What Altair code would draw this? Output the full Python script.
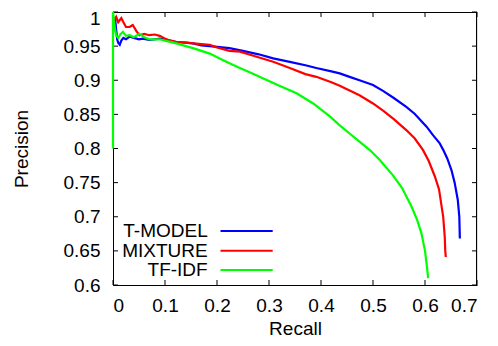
import altair as alt
import pandas as pd

# ---- data ----
tmodel_recall = [0, 0.002, 0.004, 0.006, 0.008, 0.01, 0.013, 0.016, 0.02, 0.025, 0.032, 0.04, 0.05, 0.057,
                 0.07, 0.09, 0.11, 0.122, 0.14, 0.154, 0.17, 0.186, 0.2, 0.224, 0.25, 0.28, 0.308, 0.34, 0.37,
                 0.391, 0.42, 0.436, 0.455, 0.474, 0.5, 0.52, 0.54, 0.564, 0.58, 0.603, 0.615, 0.628, 0.635,
                 0.643, 0.651, 0.657, 0.663, 0.666, 0.667]
tmodel_prec = [0.97, 0.985, 0.99, 0.975, 0.96, 0.955, 0.952, 0.958, 0.962, 0.96, 0.964, 0.962, 0.96, 0.961,
               0.959, 0.961, 0.958, 0.956, 0.955, 0.954, 0.951, 0.950, 0.949, 0.947, 0.943, 0.938, 0.932, 0.927,
               0.922, 0.918, 0.913, 0.910, 0.905, 0.900, 0.893, 0.884, 0.874, 0.861, 0.851, 0.832, 0.82, 0.808,
               0.798, 0.785, 0.768, 0.75, 0.725, 0.70, 0.668]

mixture_recall = [0, 0.003, 0.006, 0.01, 0.016, 0.02, 0.025, 0.032, 0.038, 0.045, 0.051, 0.06, 0.07, 0.08,
                  0.09, 0.1, 0.11, 0.122, 0.14, 0.154, 0.17, 0.186, 0.2, 0.224, 0.244, 0.27, 0.308, 0.34, 0.37,
                  0.391, 0.42, 0.436, 0.455, 0.474, 0.5, 0.52, 0.54, 0.564, 0.58, 0.596, 0.607, 0.619, 0.627,
                  0.635, 0.638, 0.639, 0.64]
mixture_prec = [0.97, 0.99, 0.993, 0.985, 0.991, 0.985, 0.978, 0.978, 0.981, 0.972, 0.966, 0.968, 0.966, 0.967,
                0.965, 0.961, 0.958, 0.956, 0.955, 0.954, 0.953, 0.952, 0.948, 0.943, 0.942, 0.936, 0.927, 0.918,
                0.909, 0.905, 0.897, 0.892, 0.885, 0.878, 0.866, 0.855, 0.843, 0.827, 0.815, 0.798, 0.782, 0.759,
                0.74, 0.70, 0.67, 0.65, 0.641]

tfidf_recall = [0, 0, 0.002, 0.004, 0.006, 0.01, 0.015, 0.019, 0.025, 0.032, 0.04, 0.051, 0.06, 0.07, 0.09,
                0.1, 0.122, 0.14, 0.154, 0.17, 0.186, 0.21, 0.224, 0.244, 0.265, 0.288, 0.32, 0.353, 0.385,
                0.417, 0.436, 0.455, 0.474, 0.495, 0.513, 0.538, 0.556, 0.574, 0.585, 0.593, 0.6, 0.604, 0.606]
tfidf_prec = [0.80, 1.0, 0.985, 0.975, 0.966, 0.962, 0.968, 0.971, 0.965, 0.966, 0.963, 0.968, 0.963, 0.960,
              0.960, 0.958, 0.954, 0.950, 0.947, 0.943, 0.939, 0.930, 0.925, 0.918, 0.911, 0.903, 0.892, 0.881,
              0.866, 0.847, 0.834, 0.822, 0.810, 0.797, 0.783, 0.761, 0.742, 0.715, 0.695, 0.676, 0.65, 0.625,
              0.61]

series_names = ["T-MODEL", "MIXTURE", "TF-IDF"]
series_colors = ["#0000ff", "#ff0000", "#00ff00"]
x_ticks = [0, 0.1, 0.2, 0.3, 0.4, 0.5, 0.6, 0.7]
y_ticks = [0.6, 0.65, 0.7, 0.75, 0.8, 0.85, 0.9, 0.95, 1.0]

FONT = "Liberation Sans"
FS = 19
W, H = 364, 273

rows = []
for name, rs, ps in zip(series_names, [tmodel_recall, mixture_recall, tfidf_recall],
                        [tmodel_prec, mixture_prec, tfidf_prec]):
    for i, (r, p) in enumerate(zip(rs, ps)):
        rows.append({"series": name, "recall": r, "precision": p, "idx": i})
df = pd.DataFrame(rows)

xscale = alt.Scale(domain=[0, 0.7], nice=False, zero=False)
yscale = alt.Scale(domain=[0.6, 1.0], nice=False, zero=False)

xaxis = alt.Axis(values=x_ticks, format="~g", ticks=False, domain=True, domainColor="black",
                 domainWidth=1, grid=False,
                 labelFontSize=FS, labelFont=FONT, labelPadding=11, labelColor="black",
                 title="Recall", titleFont=FONT, titleFontSize=FS, titleFontWeight="normal",
                 titleColor="black", titleY=49, titleBaseline="alphabetic")
yaxis = alt.Axis(values=y_ticks, format="~g", ticks=False, domain=True, domainColor="black",
                 domainWidth=1, grid=False,
                 labelFontSize=FS, labelFont=FONT, labelPadding=13, labelColor="black",
                 labelOffset=alt.condition("datum.value == 1", alt.value(6), alt.value(0)),
                 title="Precision", titleFont=FONT, titleFontSize=FS, titleFontWeight="normal",
                 titleColor="black", titleX=-82, titleY=H / 2, titleAngle=270, titleBaseline="bottom")

X = alt.X("recall:Q", scale=xscale, axis=xaxis)
Y = alt.Y("precision:Q", scale=yscale, axis=yaxis)

base = alt.Chart(df)
layers = []

# top and right border lines
one = pd.DataFrame({"v": [0]})
layers.append(alt.Chart(one).mark_rule(color="black", strokeWidth=1).encode(
    x=alt.value(0), x2=alt.value(W), y=alt.value(0.5)))
layers.append(alt.Chart(one).mark_rule(color="black", strokeWidth=1).encode(
    x=alt.value(W - 0.5), y=alt.value(0), y2=alt.value(H)))

# inward ticks (bottom/top/left/right)
xt = pd.DataFrame({"recall": x_ticks})
yt = pd.DataFrame({"precision": y_ticks})
tick_style = dict(color="black", strokeWidth=1)
layers.append(alt.Chart(xt).mark_rule(**tick_style).encode(
    x=X, y=alt.value(H), y2=alt.value(H - 5)))
layers.append(alt.Chart(xt).mark_rule(**tick_style).encode(
    x=X, y=alt.value(0), y2=alt.value(5)))
layers.append(alt.Chart(yt).mark_rule(**tick_style).encode(
    y=Y, x=alt.value(0), x2=alt.value(5)))
layers.append(alt.Chart(yt).mark_rule(**tick_style).encode(
    y=Y, x=alt.value(W), x2=alt.value(W - 5)))

for name, col in zip(series_names, series_colors):
    layers.append(base.transform_filter(alt.datum.series == name)
                  .mark_line(color=col, strokeWidth=2.2).encode(x=X, y=Y, order="idx:Q"))

# legend (gnuplot style: label then line sample)
leg_y = [219, 238.7, 258]
for name, col, yy in zip(series_names, series_colors, leg_y):
    ld = pd.DataFrame({"label": [name]})
    layers.append(alt.Chart(ld).mark_text(align="right", baseline="middle", font=FONT,
                                          fontSize=FS, color="black").encode(
        text="label:N", x=alt.value(94.7), y=alt.value(yy)))
    layers.append(alt.Chart(ld).mark_rule(color=col, strokeWidth=2).encode(
        x=alt.value(107.5), x2=alt.value(159.7), y=alt.value(yy)))

chart = alt.layer(*layers).properties(
    width=W, height=H,
    autosize=alt.AutoSizeParams(type="none"),
    padding={"left": 105, "top": 4, "right": 13, "bottom": 53},
).configure_view(stroke=None).configure(background="white")

chart.save("out.html", embed_options={"renderer": "svg", "actions": False})
